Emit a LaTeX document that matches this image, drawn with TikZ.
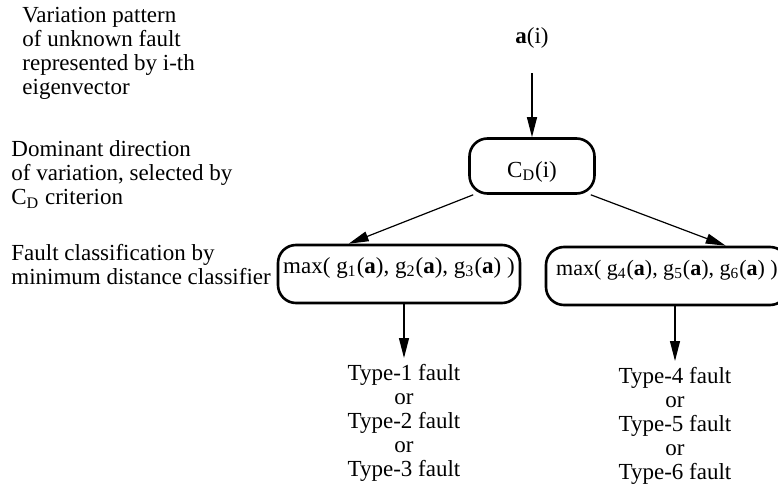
\documentclass[tikz,border=0pt]{standalone}
\usepackage{fontspec}
\setmainfont{Liberation Serif}
\usetikzlibrary{arrows.meta}

\tikzset{
  txt/.style={font=\fontsize{11.5}{12}\selectfont, inner sep=0pt},
  box/.style={draw, line width=1.3pt, rounded corners=9pt, font=\fontsize{11.5}{12}\selectfont, inner sep=0pt},
  fault/.style={txt, align=center, anchor=north, inner sep=3pt},
  arr/.style={-{Triangle[length=10pt,width=5pt]}, line width=0.6pt}
}

\begin{document}
\begin{tikzpicture}[x=0.5pt, y=-0.5pt]
      \useasboundingbox (0,0) rectangle (778,487);

      % Notes on the left
      \node (note1) [txt, align=left, anchor=north west] at (22,6.4) {Variation pattern\\of unknown fault\\represented by i-th\\eigenvector};
      \node (note2) [txt, align=left, anchor=north west] at (11,140.4) {Dominant direction\\of variation, selected by\\C\textsubscript{D} criterion};
      \node (note3) [txt, align=left, anchor=north west] at (11,244.4) {Fault classification by\\minimum distance classifier};

      % Tree
      \node (ai) [txt, anchor=base] at (532,43) {\textbf{a}(i)};
      \node (cd) [box, minimum width=62.5pt, minimum height=27.5pt, text height=14pt, text depth=3pt] at (532,166) {C\textsubscript{D}(i)};
      \node (lbox) [box, minimum width=121pt, minimum height=29pt, text height=7.5pt, text depth=8.5pt] at (399,274) {max( g\textsubscript{1}(\textbf{a}), g\textsubscript{2}(\textbf{a}), g\textsubscript{3}(\textbf{a}) )};
      \node (rbox) [box, minimum width=121pt, minimum height=29pt, text height=7.5pt, text depth=8.5pt, font=\fontsize{11}{12}\selectfont] at (667,276) {max( g\textsubscript{4}(\textbf{a}), g\textsubscript{5}(\textbf{a}), g\textsubscript{6}(\textbf{a}) )};

      % Results
      \node (type13) [fault] at (404,358) {Type-1 fault\\or\\Type-2 fault\\or\\Type-3 fault};
      \node (type46) [fault] at (675,361) {Type-4 fault\\or\\Type-5 fault\\or\\Type-6 fault};

      % Arrows
      \draw[arr, shorten <=12.5pt] (ai.south) -- (cd.north);
      \draw[arr] ([xshift=2.5pt]cd.south west) -- ([xshift=36pt]lbox.north west);
      \draw[arr] ([xshift=-2.5pt]cd.south east) -- ([xshift=90.5pt]rbox.north west);
      \draw[arr] (lbox.south -| type13.north) -- (type13.north);
      \draw[arr] (rbox.south -| type46.north) -- (type46.north);
   \end{tikzpicture}
\end{document}
